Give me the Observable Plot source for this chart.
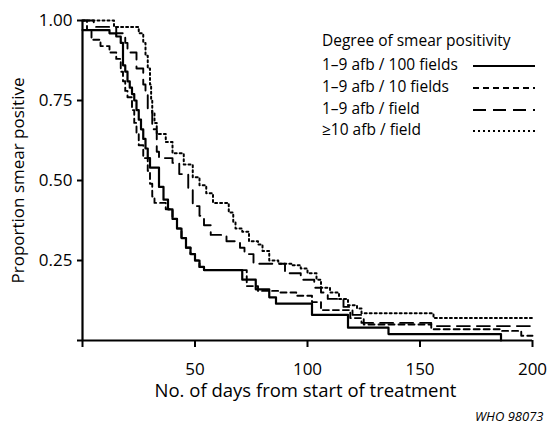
<!DOCTYPE html>
<html><head><meta charset="utf-8">
<script src="https://cdn.jsdelivr.net/npm/d3@7"></script>
<script src="https://cdn.jsdelivr.net/npm/@observablehq/plot@0.6"></script>
<style>
body{margin:0;background:#fff;}
#chart{width:550px;height:424px;}
</style></head><body><div id="chart"></div>
<script>
// ---- data ----
const seriesNames = ["1–9 afb / 100 fields", "1–9 afb / 10 fields", "1–9 afb / field", "≥10 afb / field"];
const legendTitle = "Degree of smear positivity";
const xTicks = [0, 50, 100, 150, 200];
const yTicks = [0, 0.25, 0.5, 0.75, 1];
const xLabel = "No. of days from start of treatment";
const yLabel = "Proportion smear positive";
const caption = "WHO 98073";

// [day, proportion] — Kaplan–Meier steps
const afb100fields = [[0,0.97],[12,0.96],[15,0.95],[17,0.93],[18,0.86],[19,0.84],[20,0.81],[21,0.79],[22,0.77],[23,0.75],[24,0.72],[25,0.69],[26,0.66],[27,0.63],[28,0.60],[29,0.57],[30,0.54],[34,0.48],[36,0.44],[38,0.41],[40,0.38],[42,0.35],[44,0.32],[46,0.29],[48,0.27],[50,0.25],[52,0.23],[54,0.22],[71,0.19],[77,0.16],[83,0.135],[86,0.115],[102,0.08],[118,0.04],[136,0.02],[186,0]];
const afb10fields = [[0,1.0],[2,0.97],[4,0.94],[8,0.92],[12,0.90],[15,0.88],[17,0.84],[18,0.81],[19,0.78],[20,0.76],[22,0.72],[23,0.68],[24,0.65],[25,0.61],[27,0.57],[29,0.53],[30,0.49],[31,0.45],[32,0.43],[37,0.41],[40,0.38],[42,0.35],[44,0.32],[46,0.29],[48,0.27],[50,0.25],[52,0.23],[54,0.22],[73,0.17],[78,0.155],[87,0.15],[95,0.14],[102,0.12],[106,0.095],[119,0.07],[125,0.05],[155,0.035],[186,0.03],[195,0.015],[200,0.015]];
const afbField = [[0,1.0],[5,0.98],[15,0.96],[19,0.93],[20,0.9],[24,0.85],[27,0.8],[28,0.78],[29,0.72],[31,0.66],[33,0.59],[34,0.57],[40,0.555],[43,0.52],[47,0.47],[49,0.42],[52,0.39],[54,0.36],[57,0.33],[64,0.31],[70,0.29],[72,0.27],[76,0.24],[90,0.21],[97,0.19],[103,0.165],[106,0.15],[109,0.13],[116,0.105],[120,0.08],[124,0.055],[155,0.045],[200,0.04]];
const afb10plusField = [[0,1.0],[14,0.98],[25,0.96],[27,0.93],[28,0.89],[29,0.85],[30,0.80],[30.5,0.75],[31,0.71],[32,0.68],[33,0.645],[37,0.62],[40,0.585],[45,0.55],[49,0.51],[52,0.485],[55,0.46],[58,0.43],[65,0.40],[67,0.37],[68,0.35],[71,0.34],[74,0.31],[78,0.30],[80,0.28],[83,0.25],[87,0.24],[93,0.235],[97,0.225],[100,0.21],[104,0.19],[106,0.165],[110,0.15],[114,0.13],[118,0.11],[122,0.10],[124,0.085],[156,0.07],[200,0.07]];

const series = [afb100fields, afb10fields, afbField, afb10plusField];
const dashes = [null, "6,4", "13,7", "2,3"];
const widths = [2.2, 1.9, 1.9, 2];
const FONT = "'Open Sans', sans-serif";

const plot = Plot.plot({
  width: 550, height: 424,
  marginLeft: 82, marginRight: 18, marginTop: 20, marginBottom: 84,
  style: {fontFamily: FONT, fontSize: "17px", color: "#000", background: "#fff", overflow: "visible"},
  x: {domain: [0, 200]},
  y: {domain: [0, 1]},
  marks: [
    ...series.map((s, i) => Plot.line(s, {
      x: d => d[0], y: d => d[1], curve: "step-after",
      stroke: "#000", strokeWidth: widths[i],
      ...(dashes[i] ? {strokeDasharray: dashes[i]} : {})
    })),
    Plot.ruleX([0], {stroke: "#000", strokeWidth: 2.2}),
    Plot.ruleY([0], {stroke: "#000", strokeWidth: 2.2}),
    Plot.axisX({ticks: xTicks, tickFormat: d => d === 0 ? "" : String(d), tickSize: 7, tickPadding: 15, label: null, strokeWidth: 2, fontSize: 17}),
    Plot.axisY({ticks: yTicks, tickFormat: d => d === 0 ? "" : d3.format(".2f")(d), tickSize: 5, tickPadding: 5, label: null, strokeWidth: 2, fontSize: 17}),
    Plot.text([xLabel], {text: d => d, frameAnchor: "bottom", lineAnchor: "middle", textAnchor: "middle", dx: -2, dy: 51, fontSize: 18.5}),
    Plot.text([yLabel], {text: d => d, frameAnchor: "left", textAnchor: "middle", lineAnchor: "middle", dx: -64, rotate: -90, fontSize: 17}),
    Plot.text([caption], {text: d => d, frameAnchor: "bottom-right", textAnchor: "end", lineAnchor: "middle", dx: 11, dy: 76, fontSize: 13, fontStyle: "italic"})
  ]
});
document.getElementById("chart").appendChild(plot);

// legend inside the plot frame
const svg = d3.select(plot);
const lg = svg.append("g").attr("font-family", FONT).attr("font-size", 15.5).attr("fill", "#000").attr("text-anchor", "start");
lg.append("text").attr("x", 322).attr("y", 46).text(legendTitle);
const baselines = [70, 92, 114, 135];
seriesNames.forEach((name, i) => {
  lg.append("text").attr("x", 322).attr("y", baselines[i]).text(name);
  const ln = lg.append("line").attr("x1", 473).attr("x2", 535)
    .attr("y1", baselines[i] - 4).attr("y2", baselines[i] - 4)
    .attr("stroke", "#000").attr("stroke-width", widths[i]);
  if (dashes[i]) ln.attr("stroke-dasharray", dashes[i]);
});
</script></body></html>
